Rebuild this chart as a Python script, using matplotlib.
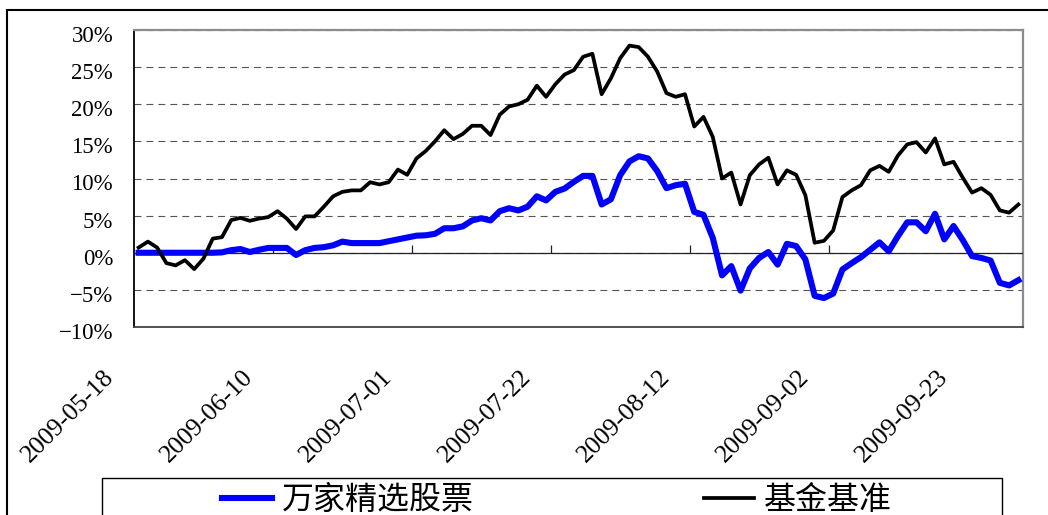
import matplotlib
matplotlib.use('Agg')
import matplotlib.pyplot as plt
from matplotlib.transforms import ScaledTranslation
from matplotlib.patches import Rectangle
from matplotlib.font_manager import FontProperties
import numpy as np

# ---------------- data ----------------
fund_label = '万家精选股票'
bench_label = '基金基准'

fund = [0, 0, 0, 0, 0, 0, 0, 0, 0, 0.05,
        0.35, 0.5, 0.1, 0.4, 0.65, 0.65, 0.65, -0.3, 0.35, 0.65,
        0.75, 1.0, 1.5, 1.3, 1.3, 1.3, 1.3, 1.55, 1.8, 2.05,
        2.3, 2.35, 2.55, 3.3, 3.3, 3.55, 4.35, 4.65, 4.35, 5.6,
        6.0, 5.7, 6.2, 7.6, 7.05, 8.2, 8.65, 9.55, 10.35, 10.35,
        6.5, 7.2, 10.45, 12.3, 13.0, 12.7, 11.0, 8.7, 9.1, 9.3,
        5.5, 5.1, 2.0, -3.05, -1.8, -5.1, -2.1, -0.7, 0.1, -1.6,
        1.2, 0.9, -0.9, -5.8, -6.1, -5.5, -2.25, -1.4, -0.6, 0.4,
        1.4, 0.2, 2.25, 4.1, 4.1, 2.9, 5.25, 1.8, 3.6, 1.7,
        -0.45, -0.7, -1.05, -4.05, -4.4, -3.7]

bench = [0.7, 1.5, 0.7, -1.4, -1.7, -1.0, -2.2, -0.8, 1.9, 2.1,
         4.4, 4.7, 4.3, 4.6, 4.8, 5.6, 4.6, 3.2, 4.9, 4.9,
         6.2, 7.6, 8.2, 8.4, 8.4, 9.5, 9.2, 9.5, 11.2, 10.5,
         12.7, 13.7, 15.0, 16.5, 15.3, 16.0, 17.1, 17.1, 15.85, 18.6,
         19.7, 20.0, 20.6, 22.5, 21.0, 22.7, 24.0, 24.6, 26.4, 26.8,
         21.35, 23.5, 26.2, 27.9, 27.7, 26.4, 24.4, 21.5, 21.0, 21.35,
         17.0, 18.3, 15.6, 10.0, 10.8, 6.5, 10.45, 11.9, 12.8, 9.2,
         11.1, 10.5, 7.75, 1.35, 1.6, 3.0, 7.5, 8.4, 9.1, 11.1,
         11.7, 10.9, 13.1, 14.6, 14.9, 13.5, 15.4, 11.9, 12.25, 10.1,
         8.1, 8.7, 7.8, 5.7, 5.4, 6.5]

date_labels = ['2009-05-18', '2009-06-10', '2009-07-01', '2009-07-22',
               '2009-08-12', '2009-09-02', '2009-09-23']
label_step = 15
y_ticks = [-10, -5, 0, 5, 10, 15, 20, 25, 30]

# ---------------- layout helpers ----------------
W, H = 1048, 515
DPI = 100
plt.rcParams['lines.scale_dashes'] = False


def fx(px):
    return px / W


def fy(py):
    return 1 - py / H


fig = plt.figure(figsize=(W / DPI, H / DPI), dpi=DPI)
fig.patch.set_facecolor('white')

ax = fig.add_axes([fx(134), fy(327), fx(1023) - fx(134), fy(30) - fy(327)])

x = np.arange(len(fund))
l1, = ax.plot(x, fund, color='#0000FF', lw=4.4, label=fund_label, zorder=3)
l2, = ax.plot(x, bench, color='black', lw=2.7, label=bench_label, zorder=4)

ax.set_xlim(-0.5, len(x) - 0.5)
ax.set_ylim(y_ticks[0], y_ticks[-1])

# y axis
ytick_font = FontProperties(family='Liberation Serif', size=16.5)
ax.set_yticks(y_ticks)
ax.set_yticklabels([f'{v}%'.replace('-', '\u2212') for v in y_ticks],
                   fontproperties=ytick_font)
ax.tick_params(axis='y', length=0, pad=15)
for lab in ax.get_yticklabels():
    lab.set_transform(lab.get_transform() +
                      ScaledTranslation(0, -4 / DPI, fig.dpi_scale_trans))

# x axis
xtick_font = FontProperties(family='Liberation Serif', size=18.5)
xt = list(range(0, len(fund), label_step))[:len(date_labels)]
ax.set_xticks(xt)
ax.set_xticklabels(date_labels, fontproperties=xtick_font, rotation=45,
                   ha='right', va='top')
ax.tick_params(axis='x', length=0, pad=28)
for lab in ax.get_xticklabels():
    lab.set_transform(lab.get_transform() +
                      ScaledTranslation(-20 / DPI, 0, fig.dpi_scale_trans))

# grid
ax.set_axisbelow(True)
ax.yaxis.grid(True, color='#555555', lw=0.8, linestyle=(0, (5, 3.6)))
ax.xaxis.grid(False)

# zero axis with tick marks at category boundaries
ax.axhline(0, color='#222222', lw=0.9, zorder=2.6)
bounds = [t - 0.5 for t in xt[1:]]
ax.vlines(bounds, 0, 8 / 7.4, color='#222222', lw=0.9, zorder=2.6)

# spines
ax.spines['left'].set_color('black')
ax.spines['left'].set_linewidth(1.3)
ax.spines['bottom'].set_color('#444444')
ax.spines['bottom'].set_linewidth(1.3)
for s in ('top', 'right'):
    ax.spines[s].set_color('#8c8c8c')
    ax.spines[s].set_linewidth(1.6)

# legend
leg_font = FontProperties(family='Noto Sans CJK SC', size=23)
fig.legend([l1, l2], [fund_label, bench_label], loc='center left',
           bbox_to_anchor=(fx(222), fy(500)), ncol=2, frameon=False,
           borderpad=0, borderaxespad=0, handlelength=1.56,
           handletextpad=0.32, columnspacing=7.2, prop=leg_font)
fig.add_artist(Rectangle((fx(102), fy(540)), fx(1002) - fx(102),
                         fy(478) - fy(540), transform=fig.transFigure,
                         fill=False, lw=1.0, ec='black', clip_on=False))

# outer chart border
fig.add_artist(Rectangle((fx(7), fy(560)), fx(1080) - fx(7),
                         fy(10) - fy(560), transform=fig.transFigure,
                         fill=False, lw=1.5, ec='black', clip_on=False))

fig.savefig('out.png', dpi=DPI)
